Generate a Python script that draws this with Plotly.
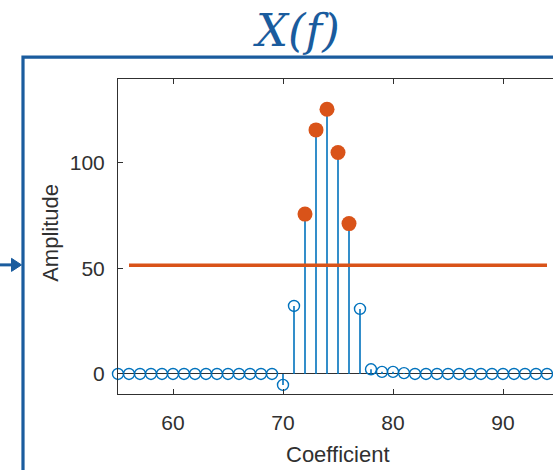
import plotly.graph_objects as go

# Spectrum coefficients and their amplitudes
coefficients = list(range(55, 96))
amplitudes = (
    [0.0] * 15                      # 55-69
    + [-5.2, 32.2, 75.7, 115.6, 125.4, 104.9, 71.2, 30.8]   # 70-77
    + [2.2, 1.0, 1.0, 0.4]          # 78-81
    + [0.0] * 14                    # 82-95
)

# Detection threshold line
threshold_x = [56, 94]
threshold = 51.5

x_ticks = [60, 70, 80, 90]
y_ticks = [0, 50, 100]

BLUE = "#0072BD"
ORANGE = "#D95319"
FRAME = "#1A5C9E"
INK = "#303030"

W, H = 553, 470
L, R, T, B = 118, 553, 79.3, 394


def px(x):
    return (x - L) / (R - L)


def py(y):
    return (B - y) / (B - T)


# stems: one segment from baseline to each value
stem_x, stem_y = [], []
for c, a in zip(coefficients, amplitudes):
    stem_x += [c, c, None]
    stem_y += [0, a, None]

peak_x = [c for c, a in zip(coefficients, amplitudes) if a > threshold]
peak_y = [a for a in amplitudes if a > threshold]

fig = go.Figure()
fig.add_trace(go.Scatter(x=stem_x, y=stem_y, mode="lines",
                         line=dict(color=BLUE, width=1.6),
                         hoverinfo="skip", cliponaxis=False))
fig.add_trace(go.Scatter(x=coefficients, y=amplitudes, mode="markers",
                         marker=dict(symbol="circle-open", size=11,
                                     color=BLUE, line=dict(width=1.4)),
                         cliponaxis=False))
fig.add_trace(go.Scatter(x=threshold_x, y=[threshold, threshold], mode="lines",
                         line=dict(color=ORANGE, width=3.5)))
fig.add_trace(go.Scatter(x=peak_x, y=peak_y, mode="markers",
                         marker=dict(symbol="circle", size=15, color=ORANGE),
                         cliponaxis=False))

tick_font = dict(family="Liberation Sans, Arial, sans-serif", size=21, color=INK)

fig.update_layout(
    width=W, height=H,
    margin=dict(l=L, r=W - R, t=T, b=H - B, pad=0),
    paper_bgcolor="white", plot_bgcolor="white",
    showlegend=False,
    xaxis=dict(range=[55, 55 + (R - L) / 11.0], tickvals=x_ticks,
               showgrid=False, zeroline=False,
               showline=True, linecolor=INK, linewidth=1, mirror="ticks",
               ticks="inside", ticklen=5, tickcolor=INK, tickwidth=1,
               tickfont=tick_font, ticklabelstandoff=10),
    yaxis=dict(range=[-9.5, 139.7], tickvals=y_ticks,
               showgrid=False, zeroline=True, zerolinecolor=INK, zerolinewidth=1,
               showline=True, linecolor=INK, linewidth=1,
               ticks="inside", ticklen=5, tickcolor=INK, tickwidth=1,
               tickfont=tick_font, ticklabelstandoff=8),
    yaxis2=dict(range=[-9.5, 139.7], tickvals=y_ticks, overlaying="y",
                side="right", showgrid=False, zeroline=False, showline=False,
                ticks="inside", ticklen=5, tickcolor=INK, tickwidth=1,
                showticklabels=False),
)

# frame around the block and incoming arrow
fig.add_shape(type="path", xref="paper", yref="paper",
              path=f"M {px(23)},{py(480)} L {px(23)},{py(57.5)} L {px(560)},{py(57.5)}",
              line=dict(color=FRAME, width=3.2), layer="above")
fig.add_shape(type="line", xref="paper", yref="paper",
              x0=px(-2), y0=py(265), x1=px(14), y1=py(265),
              line=dict(color=FRAME, width=3), layer="above")
fig.add_shape(type="path", xref="paper", yref="paper",
              path=f"M {px(11.5)},{py(258.5)} L {px(21.5)},{py(265)} L {px(11.5)},{py(271.5)} Z",
              fillcolor=FRAME, line=dict(color=FRAME, width=1), layer="above")

# titles
fig.add_annotation(x=px(296), y=py(31), xref="paper", yref="paper",
                   text="X(f)", showarrow=False, xanchor="center", yanchor="middle",
                   font=dict(family="DejaVu Serif", style="italic", size=45, color=FRAME))
fig.add_annotation(x=px(338), y=py(454), xref="paper", yref="paper",
                   text="Coefficient", showarrow=False, xanchor="center", yanchor="middle",
                   font=dict(family="Liberation Sans, Arial, sans-serif", size=22, color=INK))
fig.add_annotation(x=px(51), y=py(233), xref="paper", yref="paper",
                   text="Amplitude", showarrow=False, textangle=-90,
                   xanchor="center", yanchor="middle",
                   font=dict(family="Liberation Sans, Arial, sans-serif", size=22, color=INK))

fig.write_html("out.html")
